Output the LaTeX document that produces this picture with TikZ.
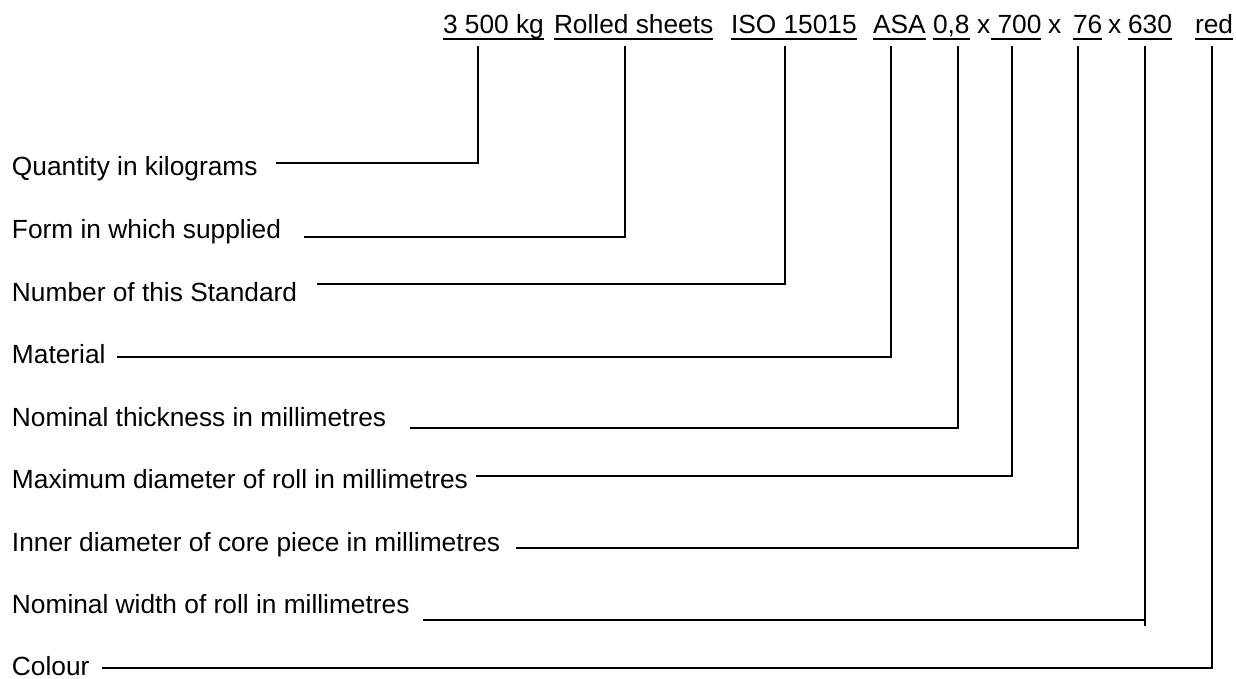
\documentclass[tikz,border=0pt]{standalone}
\usepackage{fontspec}
\setmainfont{Liberation Sans}
\begin{document}
\begin{tikzpicture}[x=1pt,y=-1pt,
  txt/.style={anchor=base west,inner sep=0pt,outer sep=0pt,font=\fontsize{26.3}{30}\selectfont},
  conn/.style={line width=1.5pt,line cap=rect},
  uline/.style={line width=1.4pt}]
\useasboundingbox (0,0) rectangle (1236,679);
% top designation
\node[txt] (t1) at (443,34) {3 500 kg};
\node[txt] (t2) at (554,34) {Rolled sheets};
\node[txt] (t3) at (731,34) {ISO 15015};
\node[txt] (t4) at (873,34) {ASA};
\node[txt] (t5) at (933,34) {0,8};
\node[txt] (x1) at (977,34) {x};
\node[txt] (t6) at (997.5,34) {700};
\node[txt] (x2) at (1048,34) {x};
\node[txt] (t7) at (1073,34) {76};
\node[txt] (x3) at (1108,34) {x};
\node[txt] (t8) at (1128,34) {630};
\node[txt] (t9) at (1195,34) {red};
\foreach \t in {t1,t2,t3,t4,t5,t7,t8,t9}
  \draw[uline] (\t.west |- 0,39) -- (\t.east |- 0,39);
\draw[uline] ([xshift=-7pt]t6.west |- 0,39) -- (t6.east |- 0,39);
% labels
\node[txt] (l1) at (12,176) {Quantity in kilograms};
\node[txt] (l2) at (12,238.5) {Form in which supplied};
\node[txt] (l3) at (12,301) {Number of this Standard};
\node[txt] (l4) at (12,363.5) {Material};
\node[txt] (l5) at (12,426) {Nominal thickness in millimetres};
\node[txt] (l6) at (12,488.5) {Maximum diameter of roll in millimetres};
\node[txt] (l7) at (12,551) {Inner diameter of core piece in millimetres};
\node[txt] (l8) at (12,613.5) {Nominal width of roll in millimetres};
\node[txt] (l9) at (12,675) {Colour};
% connector start points and top ends
\coordinate (s1) at (277,163);  \coordinate (e1) at (478,47);
\coordinate (s2) at (305,237);  \coordinate (e2) at (625,47);
\coordinate (s3) at (318,284);  \coordinate (e3) at (785,47);
\coordinate (s4) at (118,357);  \coordinate (e4) at (891,47);
\coordinate (s5) at (411,428);  \coordinate (e5) at (958,47);
\coordinate (s6) at (477,476);  \coordinate (e6) at (1012,47);
\coordinate (s7) at (517,548);  \coordinate (e7) at (1078,47);
\coordinate (s8) at (424,620);  \coordinate (e8) at (1145,47);
\coordinate (s9) at (103,668);  \coordinate (e9) at (1212,47);
\foreach \i in {1,...,9}
  \draw[conn] (s\i) -| (e\i);
\draw[conn] (e8) -- (1145,625);
\end{tikzpicture}
\end{document}
